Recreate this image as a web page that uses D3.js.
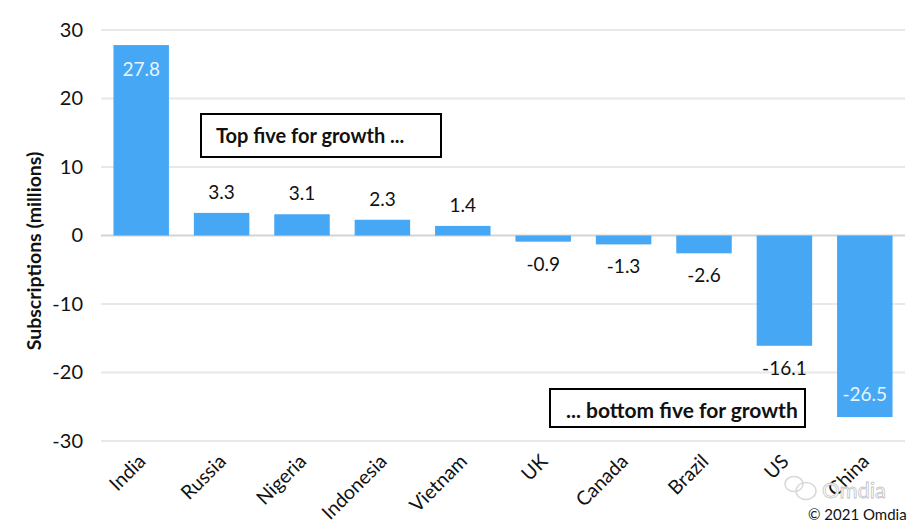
<!DOCTYPE html>
<html>
<head>
<meta charset="utf-8">
<script src="https://cdn.jsdelivr.net/npm/d3@7"></script>
<style>
  html, body { margin: 0; padding: 0; background: #fff; }
  text { font-family: Lato, "Open Sans", sans-serif; fill: #111; }
</style>
</head>
<body>
<div id="chart"></div>
<script>
var countries = ["India", "Russia", "Nigeria", "Indonesia", "Vietnam", "UK", "Canada", "Brazil", "US", "China"];
var growth = [27.8, 3.3, 3.1, 2.3, 1.4, -0.9, -1.3, -2.6, -16.1, -26.5];
var yTicks = [30, 20, 10, 0, -10, -20, -30];

var svg = d3.select("#chart").append("svg")
    .attr("width", 918)
    .attr("height", 527)
    .style("display", "block");

var x = d3.scaleBand().domain(countries).range([101, 905]).paddingInner(0.31).paddingOuter(0.155);
var y = d3.scaleLinear().domain([-30, 30]).range([441, 30]);

// gridlines
svg.append("g").selectAll("line")
    .data(yTicks)
    .enter().append("line")
    .attr("x1", 101)
    .attr("x2", 905)
    .attr("y1", function(d) { return y(d); })
    .attr("y2", function(d) { return y(d); })
    .attr("stroke", function(d) { return d === 0 ? "#d4d4d4" : "#e8e8e8"; })
    .attr("stroke-width", 2);

// y axis labels, plain hyphen like the original
var yAxis = svg.append("g")
    .attr("transform", "translate(83,0)")
    .call(d3.axisLeft(y).tickValues(yTicks).tickSize(0).tickPadding(0).tickFormat(String));
yAxis.select(".domain").remove();
yAxis.selectAll("text").style("font-size", "20px");

svg.append("text")
    .attr("transform", "translate(41,251) rotate(-90)")
    .attr("text-anchor", "middle")
    .style("font-size", "19.5px")
    .style("font-weight", "700")
    .text("Subscriptions (millions)");

// bars
svg.append("g").selectAll("rect")
    .data(growth)
    .enter().append("rect")
    .attr("x", function(d, i) { return x(countries[i]); })
    .attr("y", function(d) { return y(Math.max(d, 0)); })
    .attr("width", x.bandwidth())
    .attr("height", function(d) { return Math.abs(y(d) - y(0)); })
    .attr("fill", "#46a7f5");

// value labels, the two big bars have theirs inside in white
svg.append("g").selectAll("text")
    .data(growth)
    .enter().append("text")
    .attr("x", function(d, i) { return x(countries[i]) + x.bandwidth() / 2; })
    .attr("y", function(d) {
      if (d === 27.8) return y(d) + 31;
      if (d === -26.5) return y(d) - 16;
      return d > 0 ? y(d) - 14 : y(d) + 29;
    })
    .attr("text-anchor", "middle")
    .style("font-size", "19px")
    .style("fill", function(d) { return Math.abs(d) > 20 ? "#e4f6ff" : "#111"; })
    .text(function(d) { return d; });

// category labels
svg.append("g").selectAll("text")
    .data(countries)
    .enter().append("text")
    .attr("transform", function(d) {
      return "translate(" + (x(d) + x.bandwidth() / 2 - 4) + ",453) rotate(-45)";
    })
    .attr("text-anchor", "end")
    .attr("dy", "0.7em")
    .style("font-size", "19.5px")
    .text(function(d) { return d; });

// annotation boxes
function note(bx, by, bw, bh, label, tx, ty, size) {
  svg.append("rect")
      .attr("x", bx).attr("y", by)
      .attr("width", bw).attr("height", bh)
      .attr("fill", "#fff")
      .attr("stroke", "#000")
      .attr("stroke-width", 2);
  svg.append("text")
      .attr("x", tx)
      .attr("y", ty)
      .style("font-size", size + "px")
      .style("font-weight", "700")
      .text(label);
}
note(201, 114, 240, 43, "Top five for growth ...", 216, 143, 20);
note(550, 389, 255, 38, "... bottom five for growth", 566, 418, 21);

// watermark
var mark = svg.append("g").attr("fill", "none").attr("stroke", "#d8d8d8").attr("stroke-width", 1.5);
mark.append("ellipse").attr("cx", 794).attr("cy", 484).attr("rx", 9).attr("ry", 7.5);
mark.append("ellipse").attr("cx", 806).attr("cy", 491).attr("rx", 10).attr("ry", 8.5);
svg.append("text")
    .attr("x", 822)
    .attr("y", 498)
    .style("font-size", "22px")
    .style("fill", "#fff")
    .style("stroke", "#c4c4c4")
    .style("stroke-width", "0.8px")
    .text("Omdia");

svg.append("text")
    .attr("x", 808)
    .attr("y", 520)
    .style("font-size", "15px")
    .text("© 2021 Omdia");
</script>
</body>
</html>
